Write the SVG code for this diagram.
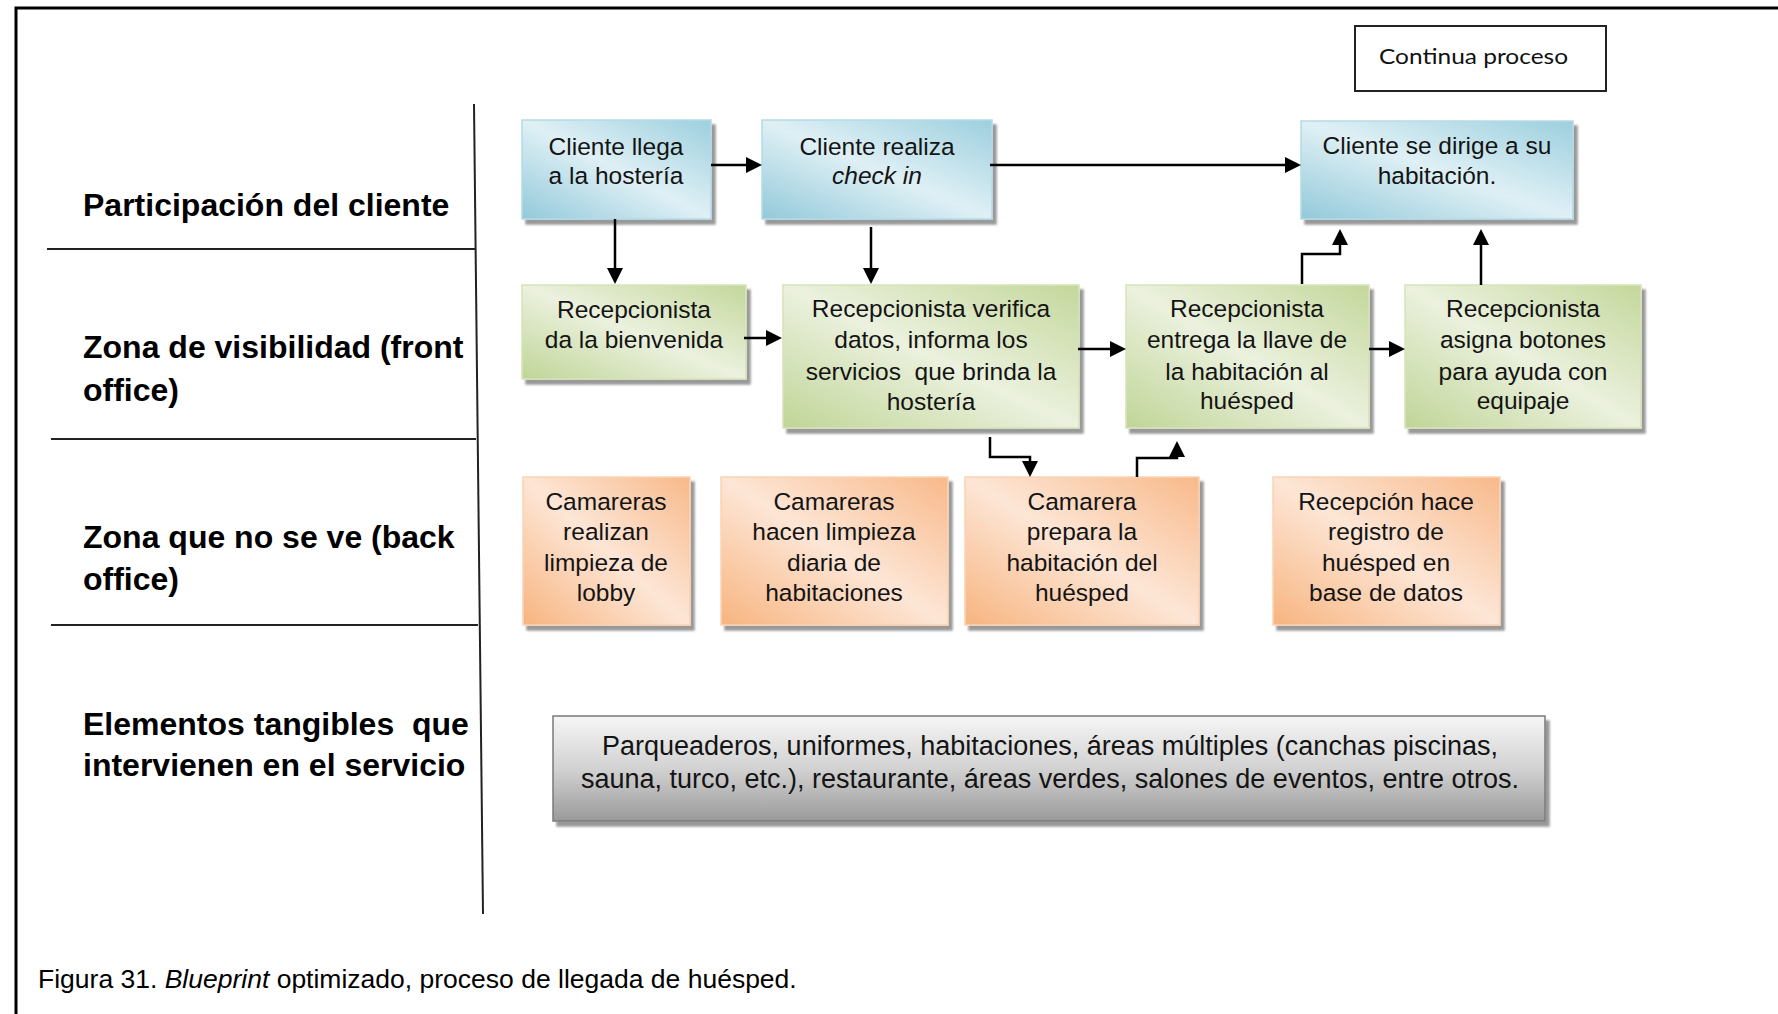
<svg xmlns="http://www.w3.org/2000/svg" width="1778" height="1014" viewBox="0 0 1778 1014">
  <defs>
    <linearGradient id="gBlue" x1="0" y1="1" x2="1" y2="0">
      <stop offset="0" stop-color="#92c9da"/>
      <stop offset="0.5" stop-color="#dff0f5"/>
      <stop offset="1" stop-color="#9ccfde"/>
    </linearGradient>
    <linearGradient id="gGreen" x1="0" y1="1" x2="1" y2="0">
      <stop offset="0" stop-color="#c0d597"/>
      <stop offset="0.5" stop-color="#ebf1de"/>
      <stop offset="1" stop-color="#c4d79b"/>
    </linearGradient>
    <linearGradient id="gOrange" x1="0" y1="1" x2="1" y2="0">
      <stop offset="0" stop-color="#f7b47f"/>
      <stop offset="0.5" stop-color="#fde6d6"/>
      <stop offset="1" stop-color="#f8b98a"/>
    </linearGradient>
    <linearGradient id="gGrey" x1="0" y1="0" x2="0" y2="1">
      <stop offset="0" stop-color="#f6f6f6"/>
      <stop offset="0.5" stop-color="#d2d2d2"/>
      <stop offset="1" stop-color="#9a9a9a"/>
    </linearGradient>
    <filter id="shadow" x="-5%" y="-5%" width="115%" height="120%">
      <feDropShadow dx="4" dy="5" stdDeviation="1.2" flood-color="#000" flood-opacity="0.4"/>
    </filter>
    <marker id="arr" markerUnits="userSpaceOnUse" markerWidth="16" markerHeight="16" refX="10" refY="8" orient="auto">
      <path d="M0,0 L16,8 L0,16 Z" fill="#000"/>
    </marker>
  </defs>
  <style>
    .lane { font-family: "Liberation Sans", Arial, sans-serif; font-weight: bold; font-size: 32px; fill: #000; }
    .rule { stroke: #222; stroke-width: 2; fill: none; }
    .node text { font-family: "Liberation Sans", Arial, sans-serif; font-size: 24.5px; fill: #141414; text-anchor: middle; }
    .node text.big { font-size: 27px; }
    .blue { fill: url(#gBlue); stroke: #b5dae6; stroke-width: 1.5; filter: url(#shadow); }
    .green { fill: url(#gGreen); stroke: #d6e3bb; stroke-width: 1.5; filter: url(#shadow); }
    .orange { fill: url(#gOrange); stroke: #fbd2b3; stroke-width: 1.5; filter: url(#shadow); }
    .grey { fill: url(#gGrey); stroke: #7a7a7a; stroke-width: 1.5; filter: url(#shadow); }
    .conn path { stroke: #000; stroke-width: 2.5; fill: none; marker-end: url(#arr); }
    .caption { font-family: "Liberation Sans", Arial, sans-serif; font-size: 26.5px; fill: #000; }
  </style>

  <rect width="1778" height="1014" fill="#fff"/>
  <!-- outer frame (runs off the right and bottom edges) -->
  <rect x="16" y="8" width="1800" height="1100" fill="none" stroke="#000" stroke-width="3"/>

  <!-- swimlane labels and separators -->
  <g id="lanes">
    <line class="rule" x1="474" y1="104" x2="483" y2="914" stroke-width="2.5"/>
    <line class="rule" x1="47" y1="249" x2="475" y2="249"/>
    <line class="rule" x1="51" y1="439" x2="476" y2="439"/>
    <line class="rule" x1="51" y1="625" x2="478" y2="625"/>
    <text class="lane" x="83" y="216">Participación del cliente</text>
    <text class="lane" x="83" y="358">Zona de visibilidad (front</text>
    <text class="lane" x="83" y="401">office)</text>
    <text class="lane" x="83" y="548">Zona que no se ve (back</text>
    <text class="lane" x="83" y="590">office)</text>
    <text class="lane" x="83" y="735" xml:space="preserve">Elementos tangibles  que</text>
    <text class="lane" x="83" y="776">intervienen en el servicio</text>
  </g>

  <!-- continuation note -->
  <g id="continua">
    <rect x="1355" y="26" width="251" height="65" fill="#fff" stroke="#222" stroke-width="2"/>
    <text x="1379" y="64" font-family="Lato, 'Open Sans', sans-serif" font-size="22" fill="#111" textLength="189" lengthAdjust="spacingAndGlyphs">Continua proceso</text>
  </g>

  <!-- customer actions -->
  <g id="n-llega" class="node">
    <rect class="blue" x="522" y="120" width="189" height="99"/>
    <text x="616" y="155">Cliente llega</text>
    <text x="616" y="184">a la hostería</text>
  </g>
  <g id="n-checkin" class="node">
    <rect class="blue" x="762" y="120" width="230" height="99"/>
    <text x="877" y="155">Cliente realiza</text>
    <text x="877" y="184" font-style="italic">check in</text>
  </g>
  <g id="n-dirige" class="node">
    <rect class="blue" x="1301" y="121" width="272" height="98"/>
    <text x="1437" y="154">Cliente se dirige a su</text>
    <text x="1437" y="184">habitación.</text>
  </g>

  <!-- front office -->
  <g id="n-bienvenida" class="node">
    <rect class="green" x="522" y="285" width="224" height="94"/>
    <text x="634" y="318">Recepcionista</text>
    <text x="634" y="348">da la bienvenida</text>
  </g>
  <g id="n-verifica" class="node">
    <rect class="green" x="783" y="285" width="296" height="143"/>
    <text x="931" y="317">Recepcionista verifica</text>
    <text x="931" y="348">datos, informa los</text>
    <text x="931" y="380" xml:space="preserve">servicios  que brinda la</text>
    <text x="931" y="410">hostería</text>
  </g>
  <g id="n-llave" class="node">
    <rect class="green" x="1126" y="285" width="243" height="143"/>
    <text x="1247" y="317">Recepcionista</text>
    <text x="1247" y="348">entrega la llave de</text>
    <text x="1247" y="380">la habitación al</text>
    <text x="1247" y="409">huésped</text>
  </g>
  <g id="n-botones" class="node">
    <rect class="green" x="1405" y="285" width="236" height="143"/>
    <text x="1523" y="317">Recepcionista</text>
    <text x="1523" y="348">asigna botones</text>
    <text x="1523" y="380">para ayuda con</text>
    <text x="1523" y="409">equipaje</text>
  </g>

  <!-- back office -->
  <g id="n-lobby" class="node">
    <rect class="orange" x="523" y="477" width="167" height="148"/>
    <text x="606" y="510">Camareras</text>
    <text x="606" y="540">realizan</text>
    <text x="606" y="571">limpieza de</text>
    <text x="606" y="601">lobby</text>
  </g>
  <g id="n-diaria" class="node">
    <rect class="orange" x="721" y="477" width="227" height="148"/>
    <text x="834" y="510">Camareras</text>
    <text x="834" y="540">hacen limpieza</text>
    <text x="834" y="571">diaria de</text>
    <text x="834" y="601">habitaciones</text>
  </g>
  <g id="n-prepara" class="node">
    <rect class="orange" x="965" y="477" width="234" height="148"/>
    <text x="1082" y="510">Camarera</text>
    <text x="1082" y="540">prepara la</text>
    <text x="1082" y="571">habitación del</text>
    <text x="1082" y="601">huésped</text>
  </g>
  <g id="n-registro" class="node">
    <rect class="orange" x="1273" y="477" width="227" height="148"/>
    <text x="1386" y="510">Recepción hace</text>
    <text x="1386" y="540">registro de</text>
    <text x="1386" y="571">huésped en</text>
    <text x="1386" y="601">base de datos</text>
  </g>

  <!-- tangible elements -->
  <g id="n-tangibles" class="node">
    <rect class="grey" x="553" y="716" width="992" height="105"/>
    <text class="big" x="1050" y="755">Parqueaderos, uniformes, habitaciones, áreas múltiples (canchas piscinas,</text>
    <text class="big" x="1050" y="788">sauna, turco, etc.), restaurante, áreas verdes, salones de eventos, entre otros.</text>
  </g>

  <!-- connectors -->
  <g id="connectors" class="conn">
    <path d="M711,165 H756"/>
    <path d="M990,165 H1295"/>
    <path d="M615,219 V278"/>
    <path d="M871,227 V278"/>
    <path d="M744,338 H776"/>
    <path d="M1078,349 H1120"/>
    <path d="M1369,349 H1399"/>
    <path d="M1481,285 V235"/>
    <path d="M1302,284 V254 H1340 V235"/>
    <path d="M990,437 V457 H1030 V471"/>
    <path d="M1137,477 V458 H1177 V447"/>
  </g>

  <text class="caption" x="38" y="988">Figura 31. <tspan font-style="italic">Blueprint</tspan> optimizado, proceso de llegada de huésped.</text>
</svg>
